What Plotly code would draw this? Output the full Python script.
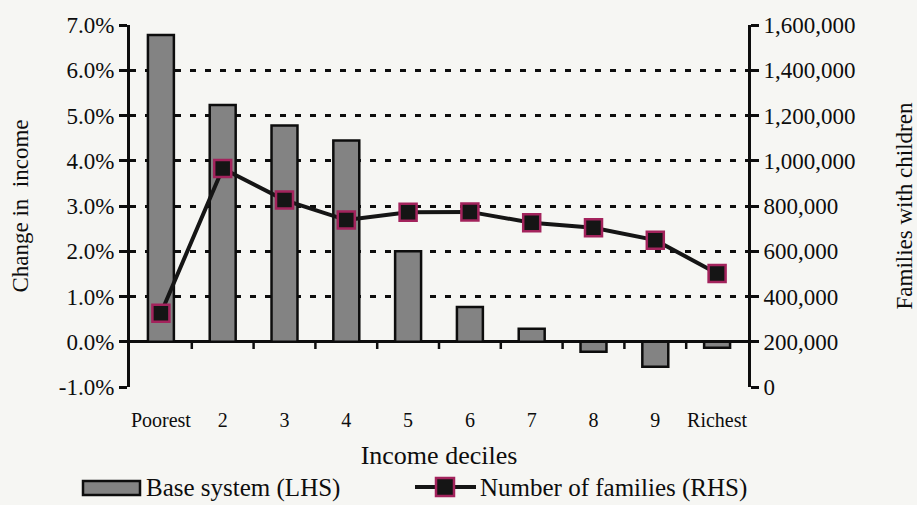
import plotly.graph_objects as go

# Income deciles and the two series plotted against them
deciles = ["Poorest", "2", "3", "4", "5", "6", "7", "8", "9", "Richest"]
change_in_income = [6.78, 5.23, 4.78, 4.45, 2.0, 0.77, 0.29, -0.22, -0.55, -0.13]  # % (LHS)
families_with_children = [326000, 966000, 826000, 738000, 772000, 774000, 726000, 704000, 649000, 502000]  # RHS

left_ticks = [-1, 0, 1, 2, 3, 4, 5, 6, 7]
left_tick_text = ["-1.0%", "0.0%", "1.0%", "2.0%", "3.0%", "4.0%", "5.0%", "6.0%", "7.0%"]
right_ticks = [0, 200000, 400000, 600000, 800000, 1000000, 1200000, 1400000, 1600000]
right_tick_text = ["0", "200,000", "400,000", "600,000", "800,000", "1,000,000", "1,200,000", "1,400,000", "1,600,000"]

bar_name = "Base system (LHS)"
line_name = "Number of families (RHS)"

FONT = "Liberation Serif, Times New Roman, serif"
BG = "#f6f6f3"
INK = "#0d0d0d"
BAR_GREY = "#838383"
MARKER_EDGE = "#a3235c"

W, H = 917, 505
ML, MR, MT, MB = 130, 169, 25, 118
PW, PH = W - ML - MR, H - MT - MB


def px(x):
    """Pixel column -> paper x."""
    return (x - ML) / PW


def py(y):
    """Pixel row -> paper y."""
    return (H - MB - y) / PH


fig = go.Figure()

fig.add_trace(go.Bar(
    x=deciles, y=change_in_income, name=bar_name,
    marker=dict(color=BAR_GREY, line=dict(color=INK, width=2.5)),
    width=0.42, yaxis="y", showlegend=False,
))

fig.add_trace(go.Scatter(
    x=deciles, y=families_with_children, name=line_name,
    mode="lines+markers", yaxis="y2", showlegend=False,
    line=dict(color="#151515", width=4),
    marker=dict(symbol="square", size=17, color="#151515",
                line=dict(color=MARKER_EDGE, width=2.5)),
))

# small tick marks between categories, hanging below the zero line
for i in range(len(deciles) - 1):
    fig.add_shape(type="line", xref="x", yref="y",
                  x0=i + 0.5, x1=i + 0.5, y0=0, y1=-0.16,
                  line=dict(color=INK, width=2.5))

# legend drawn along the bottom edge
LEG_Y = 488
fig.add_shape(type="rect", xref="paper", yref="paper",
              x0=px(83), x1=px(140), y0=py(LEG_Y + 7), y1=py(LEG_Y - 7),
              fillcolor=BAR_GREY, line=dict(color=INK, width=2.5))
fig.add_annotation(xref="paper", yref="paper", x=px(144), y=py(LEG_Y),
                   xanchor="left", yanchor="middle", showarrow=False,
                   text=bar_name, font=dict(size=25, family=FONT, color=INK))
fig.add_shape(type="line", xref="paper", yref="paper",
              x0=px(415), x1=px(476), y0=py(LEG_Y - 1), y1=py(LEG_Y - 1),
              line=dict(color="#151515", width=4))
fig.add_shape(type="rect", xref="paper", yref="paper",
              x0=px(436), x1=px(454), y0=py(LEG_Y + 8), y1=py(LEG_Y - 10),
              fillcolor="#151515", line=dict(color=MARKER_EDGE, width=2.5))
fig.add_annotation(xref="paper", yref="paper", x=px(478), y=py(LEG_Y),
                   xanchor="left", yanchor="middle", showarrow=False,
                   text=line_name, font=dict(size=25, family=FONT, color=INK))

fig.update_layout(
    width=W, height=H,
    margin=dict(l=ML, r=MR, t=MT, b=MB),
    paper_bgcolor=BG, plot_bgcolor=BG,
    font=dict(family=FONT, color=INK, size=20),
    showlegend=False,
    xaxis=dict(
        type="category", range=[-0.5, 9.5], automargin=False,
        showline=False, showgrid=False, zeroline=False,
        ticks="outside", ticklen=15, tickcolor="rgba(0,0,0,0)",
        tickfont=dict(size=20, family=FONT),
        title=dict(text="Income deciles", font=dict(size=26, family=FONT), standoff=15),
    ),
    yaxis=dict(
        range=[-1, 7], tickvals=left_ticks, ticktext=left_tick_text, automargin=False,
        showline=True, linecolor=INK, linewidth=3,
        ticks="outside", ticklen=8, tickwidth=2.5, tickcolor=INK,
        showgrid=True, gridcolor=INK, gridwidth=2.5, griddash="6px,9px",
        zeroline=True, zerolinecolor=INK, zerolinewidth=2.5,
        tickfont=dict(size=23, family=FONT),
        title=dict(text="Change in  income", font=dict(size=23, family=FONT), standoff=24),
    ),
    yaxis2=dict(
        overlaying="y", side="right", automargin=False,
        range=[0, 1600000], tickvals=right_ticks, ticktext=right_tick_text,
        showline=True, linecolor=INK, linewidth=3,
        ticks="outside", ticklen=8, tickwidth=2.5, tickcolor=INK,
        showgrid=False, zeroline=False,
        tickfont=dict(size=23, family=FONT),
        title=dict(text="Families with children", font=dict(size=23, family=FONT), standoff=42),
    ),
)

fig.write_html("out.html")
